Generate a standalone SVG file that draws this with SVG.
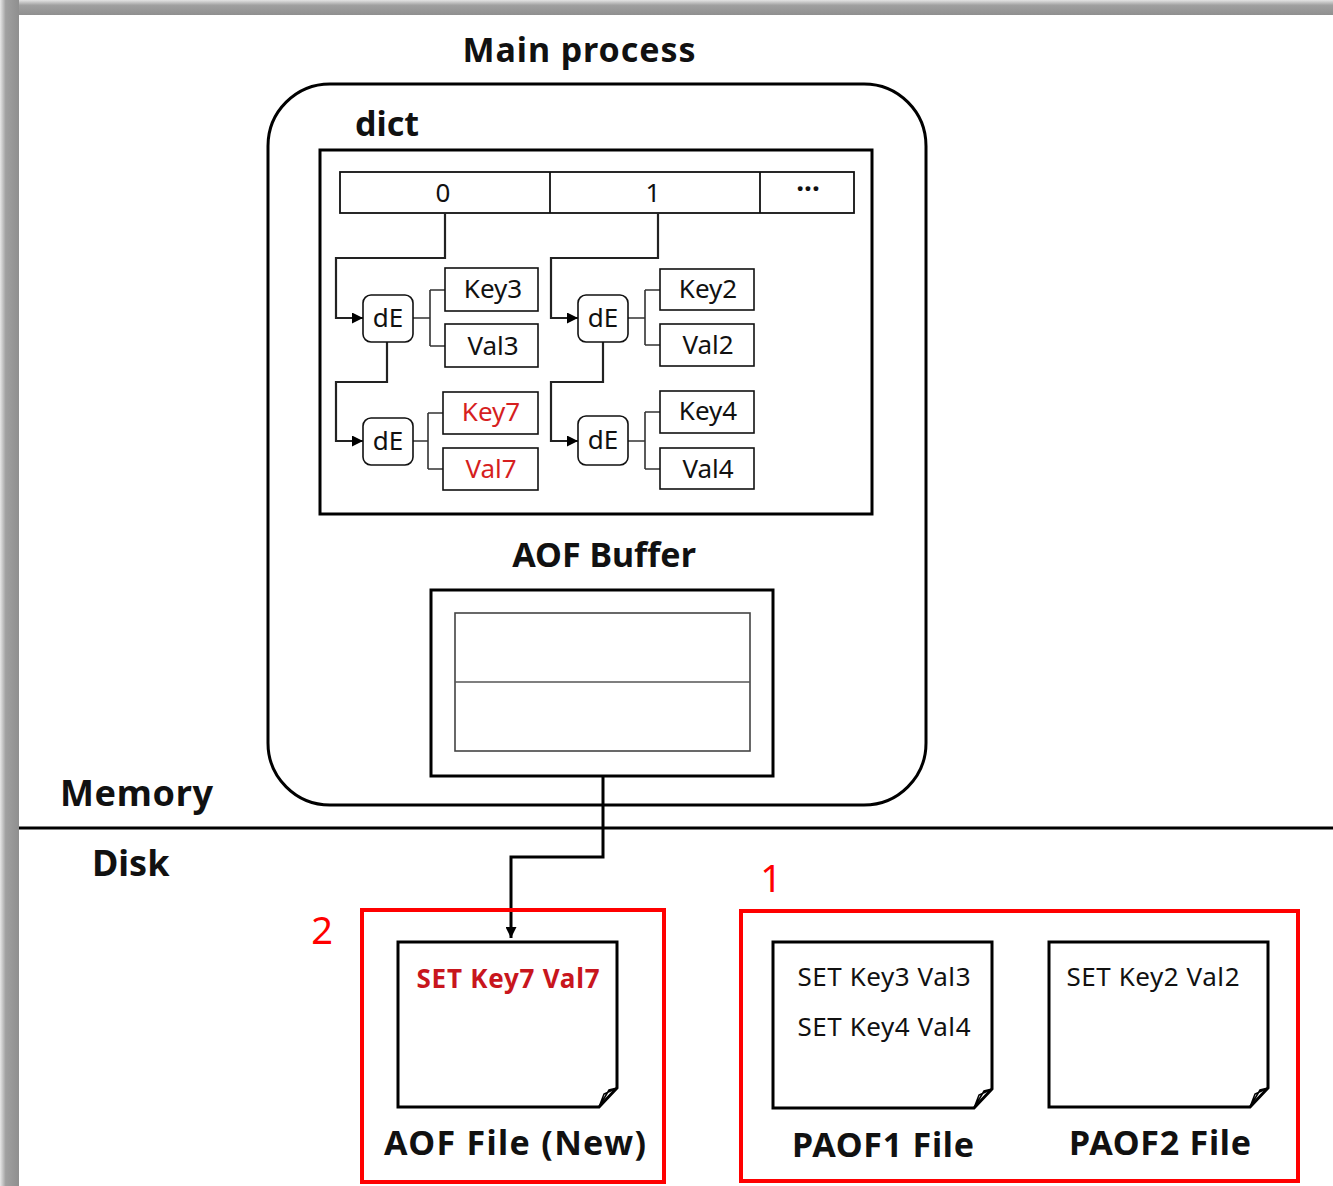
<svg xmlns="http://www.w3.org/2000/svg" width="1333" height="1186" viewBox="0 0 1333 1186">
<defs>
<linearGradient id="gl" x1="0" y1="0" x2="1" y2="0"><stop offset="0" stop-color="#e8e8e8"/><stop offset="0.3" stop-color="#a0a0a0"/><stop offset="1" stop-color="#8f8f8f"/></linearGradient>
<linearGradient id="gt" x1="0" y1="0" x2="0" y2="1"><stop offset="0" stop-color="#e4e4e4"/><stop offset="0.35" stop-color="#a0a0a0"/><stop offset="1" stop-color="#8f8f8f"/></linearGradient>
<marker id="ah" viewBox="0 0 10 10" refX="10" refY="5" markerWidth="11" markerHeight="11" markerUnits="userSpaceOnUse" orient="auto"><path d="M0,0 L10,5 L0,10 Z" fill="#000"/></marker>
<style>
text{font-family:"Noto Sans","Noto Sans CJK KR",sans-serif;fill:#111}
.t{font-size:34px;font-weight:bold;text-anchor:middle}
.lb{font-size:36px;font-weight:bold}
.n{font-size:26px;text-anchor:middle}
.r{fill:#d61f1f}
.big{font-size:38px;fill:#ff0000;text-anchor:middle}
.kv{fill:#fff;stroke:#111;stroke-width:1.6}
.de{fill:#fff;stroke:#111;stroke-width:1.6}
.ch{fill:none;stroke:#222;stroke-width:2.2}
.br{fill:none;stroke:#333;stroke-width:1.6}
.doc{fill:#fff;stroke:#000;stroke-width:3}
.red{fill:none;stroke:#ff0000;stroke-width:4}
</style>
</defs>
<rect width="1333" height="1186" fill="#fff"/>
<rect x="0" y="0" width="1333" height="15" fill="url(#gt)"/>
<rect x="0" y="0" width="19" height="1186" fill="url(#gl)"/>

<g id="main-process">
<text class="t" x="579" y="62" textLength="233" lengthAdjust="spacing">Main process</text>
<rect x="268" y="84" width="658" height="721" rx="62" fill="none" stroke="#000" stroke-width="3"/>
</g>

<g id="dict">
<text x="355" y="136" style="font-size:34px;font-weight:bold">dict</text>
<rect x="320" y="150" width="552" height="364" fill="none" stroke="#000" stroke-width="3"/>
</g>

<g id="array">
<rect x="340" y="172" width="514" height="41" fill="#fff" stroke="#111" stroke-width="1.8"/>
<line x1="550" y1="172" x2="550" y2="213" stroke="#111" stroke-width="1.8"/>
<line x1="760" y1="172" x2="760" y2="213" stroke="#111" stroke-width="1.8"/>
<text class="n" x="443" y="202">0</text>
<text class="n" x="653" y="202">1</text>
<text class="n" x="808" y="199" style="font-weight:bold;font-size:28px">···</text>
</g>

<g id="connectors">
<path class="ch" d="M445,213 V258 H336 V318 H363" marker-end="url(#ah)"/>
<path class="ch" d="M387,342 V382 H336 V441 H363" marker-end="url(#ah)"/>
<path class="ch" d="M658,213 V258 H551 V318 H578" marker-end="url(#ah)"/>
<path class="ch" d="M603,342 V382 H551 V441 H578" marker-end="url(#ah)"/>
<path class="br" d="M413,318 H430 M430,290 V346 M430,290 H445 M430,346 H445"/>
<path class="br" d="M413,441 H428 M428,413 V469 M428,413 H443 M428,469 H443"/>
<path class="br" d="M628,318 H645 M645,290 V345 M645,290 H660 M645,345 H660"/>
<path class="br" d="M628,441 H645 M645,412 V469 M645,412 H660 M645,469 H660"/>
<path d="M603,776 V857 H511 V938" fill="none" stroke="#000" stroke-width="3" marker-end="url(#ah)"/>
</g>

<g id="de1"><rect class="de" x="363" y="295" width="50" height="47" rx="8"/><text class="n" x="388" y="327">dE</text></g>
<g id="key3"><rect class="kv" x="445" y="268" width="93" height="43"/><text class="n" x="493" y="298">Key3</text></g>
<g id="val3"><rect class="kv" x="445" y="324" width="93" height="43"/><text class="n" x="493" y="355">Val3</text></g>

<g id="de2"><rect class="de" x="363" y="418" width="50" height="47" rx="8"/><text class="n" x="388" y="450">dE</text></g>
<g id="key7"><rect class="kv" x="443" y="392" width="95" height="42"/><text class="n r" x="491" y="421">Key7</text></g>
<g id="val7"><rect class="kv" x="443" y="448" width="95" height="42"/><text class="n r" x="491" y="478">Val7</text></g>

<g id="de3"><rect class="de" x="578" y="295" width="50" height="47" rx="8"/><text class="n" x="603" y="327">dE</text></g>
<g id="key2"><rect class="kv" x="660" y="269" width="94" height="41"/><text class="n" x="708" y="298">Key2</text></g>
<g id="val2"><rect class="kv" x="660" y="324" width="94" height="42"/><text class="n" x="708" y="354">Val2</text></g>

<g id="de4"><rect class="de" x="578" y="416" width="50" height="49" rx="8"/><text class="n" x="603" y="449">dE</text></g>
<g id="key4"><rect class="kv" x="660" y="391" width="94" height="42"/><text class="n" x="708" y="420">Key4</text></g>
<g id="val4"><rect class="kv" x="660" y="448" width="94" height="41"/><text class="n" x="708" y="478">Val4</text></g>

<g id="aof-buffer">
<text class="t" x="604" y="567">AOF Buffer</text>
<rect x="431" y="590" width="342" height="186" fill="#fff" stroke="#000" stroke-width="3"/>
<rect x="455" y="613" width="295" height="138" fill="none" stroke="#444" stroke-width="1.6"/>
<line x1="455" y1="682" x2="750" y2="682" stroke="#555" stroke-width="1.6"/>
</g>

<g id="divider">
<line x1="19" y1="828" x2="1333" y2="828" stroke="#000" stroke-width="3"/>
<text class="lb" x="60" y="806" textLength="153" lengthAdjust="spacing">Memory</text>
<text class="lb" x="92" y="876">Disk</text>
</g>

<g id="group2">
<text class="big" x="322" y="944">2</text>
<rect class="red" x="362" y="910" width="302" height="272"/>
</g>
<g id="aof-file">
<path class="doc" d="M398,942 H617 V1088 L599,1107 H398 Z"/>
<path d="M599,1107 L604,1094 L617,1088 L609,1090 Z" fill="#fff" stroke="#000" stroke-width="1.5"/>
<text x="508" y="988" textLength="183" lengthAdjust="spacing" style="font-size:26px;font-weight:bold;text-anchor:middle;fill:#c8161d">SET Key7 Val7</text>
<text class="t" x="515" y="1155" textLength="262" lengthAdjust="spacing">AOF File (New)</text>
</g>

<g id="group1">
<text class="big" x="771" y="892">1</text>
<rect class="red" x="741" y="911" width="557" height="270"/>
</g>
<g id="paof1">
<path class="doc" d="M773,942 H992 V1089 L974,1108 H773 Z"/>
<path d="M974,1108 L979,1095 L992,1089 L984,1091 Z" fill="#fff" stroke="#000" stroke-width="1.5"/>
<text class="n" x="884" y="986" textLength="173" lengthAdjust="spacing">SET Key3 Val3</text>
<text class="n" x="884" y="1036" textLength="173" lengthAdjust="spacing">SET Key4 Val4</text>
<text class="t" x="883" y="1157" textLength="182" lengthAdjust="spacing">PAOF1 File</text>
</g>
<g id="paof2">
<path class="doc" d="M1049,942 H1268 V1088 L1250,1107 H1049 Z"/>
<path d="M1250,1107 L1255,1094 L1268,1088 L1260,1090 Z" fill="#fff" stroke="#000" stroke-width="1.5"/>
<text class="n" x="1153" y="986" textLength="173" lengthAdjust="spacing">SET Key2 Val2</text>
<text class="t" x="1160" y="1155" textLength="182" lengthAdjust="spacing">PAOF2 File</text>
</g>
</svg>
